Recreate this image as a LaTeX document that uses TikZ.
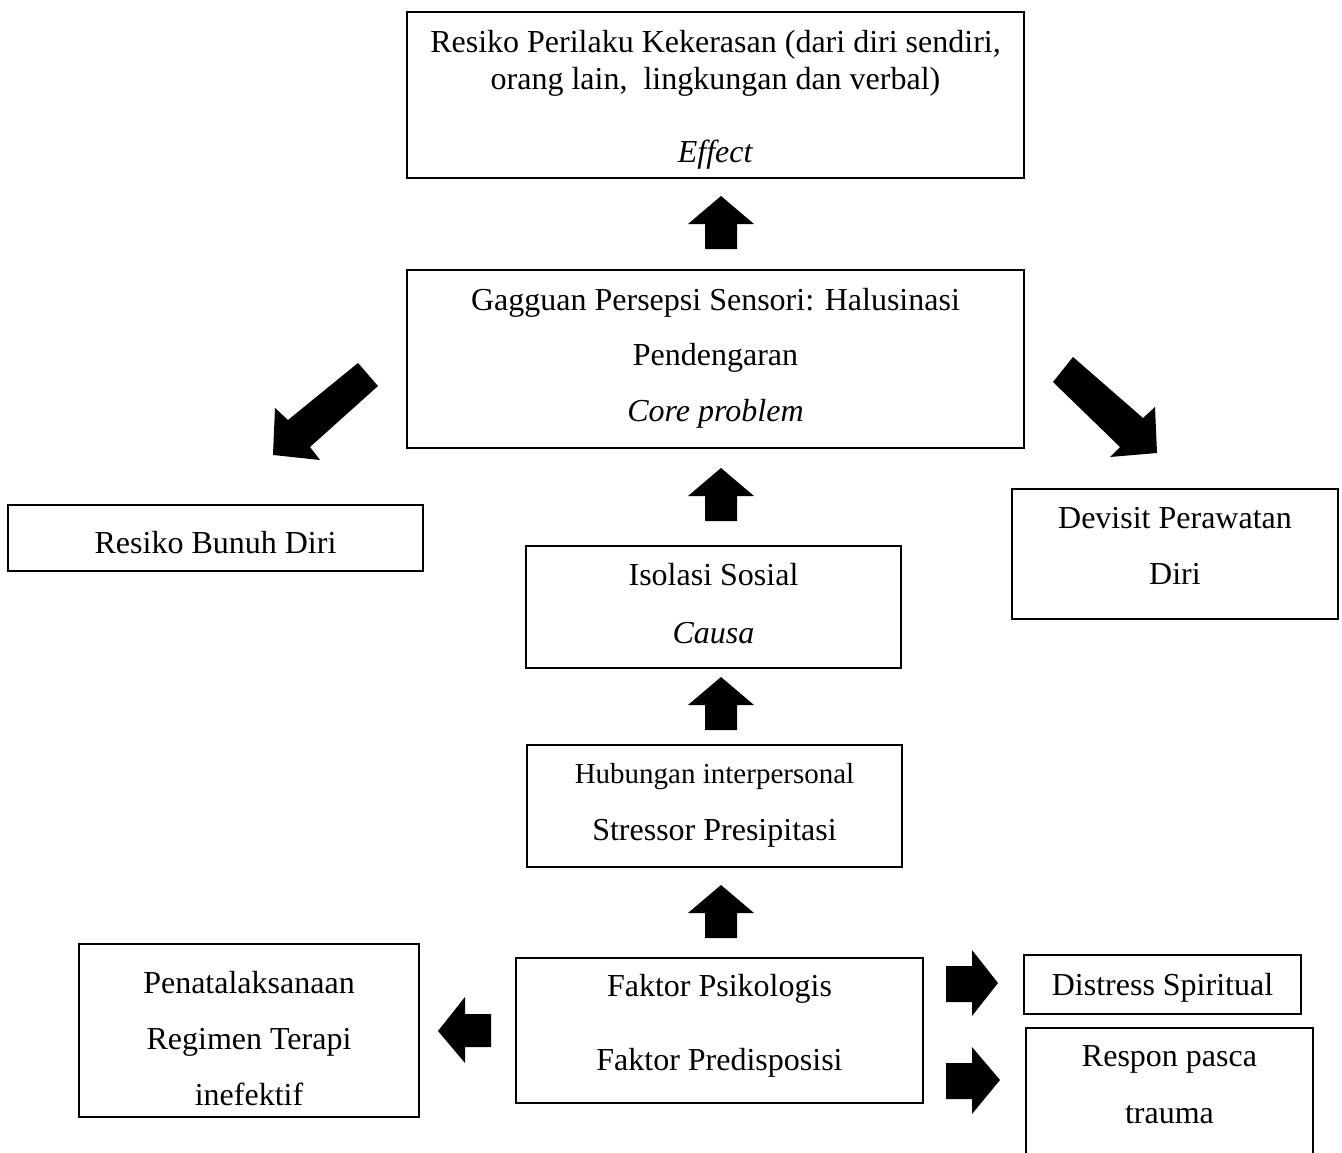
\documentclass[tikz,border=0pt]{standalone}
\usepackage{fontspec}
\setmainfont{Liberation Serif}
\newcommand\blockup[2]{%
  \fill ({#1},{#2}) -- ({#1+33},{#2+28}) -- ({#1+16},{#2+28}) -- ({#1+16},{#2+53})
    -- ({#1-16},{#2+53}) -- ({#1-16},{#2+28}) -- ({#1-33},{#2+28}) -- cycle;}
\begin{document}
\begin{tikzpicture}[x=1pt,y=-1pt,
  box/.style={draw, line width=1.2pt, inner sep=0pt, outer sep=0pt},
  txt/.style={anchor=north, inner sep=0pt, align=center}]
\useasboundingbox (0,0) rectangle (1342,1153);
\clip (0,0) rectangle (1342,1153);

% boxes
\node[box, minimum width=617pt, minimum height=166pt] (effect) at (715.5,95) {};
\node[box, minimum width=617pt, minimum height=178pt] (core) at (715.5,359) {};
\node[box, minimum width=415pt, minimum height=66pt] (bunuh) at (215.5,538) {};
\node[box, minimum width=326pt, minimum height=130pt] (devisit) at (1175,554) {};
\node[box, minimum width=375pt, minimum height=122pt] (isolasi) at (713.5,607) {};
\node[box, minimum width=375pt, minimum height=122pt] (hubungan) at (714.5,806) {};
\node[box, minimum width=407pt, minimum height=145pt] (faktor) at (719.5,1030.5) {};
\node[box, minimum width=340pt, minimum height=173pt] (penata) at (249,1030.5) {};
\node[box, minimum width=277pt, minimum height=59pt] (distress) at (1162.5,984.5) {};
\node[box, minimum width=287pt, minimum height=152pt] (respon) at (1169.5,1104) {};

% texts
\node[txt, font=\fontsize{32}{37}\selectfont] (effect-t) at (715.5,27)
  {\rule{0pt}{25pt}Resiko Perilaku Kekerasan (dari diri sendiri,\\ orang lain, \ lingkungan dan verbal)\\[36pt] \textit{Effect}};
\node[txt, font=\fontsize{32}{55.5}\selectfont] (core-t) at (715.5,285)
  {\rule{0pt}{25pt}Gagguan Persepsi Sensori: Halusinasi\\ Pendengaran\\ \textit{Core problem}};
\node[txt, font=\fontsize{32}{56}\selectfont] (bunuh-t) at (215.5,528)
  {\rule{0pt}{25pt}Resiko Bunuh Diri};
\node[txt, font=\fontsize{32}{56}\selectfont] (devisit-t) at (1175,503)
  {\rule{0pt}{25pt}Devisit Perawatan\\ Diri};
\node[txt, font=\fontsize{32}{58}\selectfont] (isolasi-t) at (713.5,560)
  {\rule{0pt}{25pt}Isolasi Sosial\\ \textit{Causa}};
\node[txt, font=\fontsize{32}{57}\selectfont] (hubungan-t) at (714.5,758)
  {\rule{0pt}{25pt}{\fontsize{29}{57}\selectfont Hubungan interpersonal}\\ Stressor Presipitasi};
\node[txt, font=\fontsize{32}{73.5}\selectfont] (faktor-t) at (719.5,971.5)
  {\rule{0pt}{25pt}Faktor Psikologis\\ Faktor Predisposisi};
\node[txt, font=\fontsize{32}{56}\selectfont] (penata-t) at (249,968)
  {\rule{0pt}{25pt}Penatalaksanaan\\ Regimen Terapi\\ inefektif};
\node[txt, font=\fontsize{32}{56}\selectfont] (distress-t) at (1162.5,970)
  {\rule{0pt}{25pt}Distress Spiritual};
\node[txt, font=\fontsize{32}{56.5}\selectfont] (respon-t) at (1169.5,1041.5)
  {\rule{0pt}{25pt}Respon pasca\\ trauma};

% block arrows up
\blockup{721}{196}
\blockup{721}{468}
\blockup{721}{677}
\blockup{721}{885}

% diagonal arrows
\fill (378,386) -- (310,447) -- (320,460) -- (273,455) -- (275,408) -- (288,420) -- (358,363) -- cycle;
\fill (1073,357) -- (1143,418) -- (1155,407) -- (1157,453) -- (1110,457) -- (1120,447) -- (1053,382) -- cycle;

% left arrow
\fill (438,1031) -- (465,997) -- (465,1014) -- (491,1014) -- (491,1047) -- (465,1047) -- (465,1063) -- cycle;
% right arrows
\fill (998,983) -- (972,950) -- (972,966) -- (946,966) -- (946,1002) -- (972,1002) -- (972,1016) -- cycle;
\fill (1000,1080) -- (972,1047) -- (972,1063) -- (946,1063) -- (946,1099) -- (972,1099) -- (972,1114) -- cycle;
\end{tikzpicture}
\end{document}
